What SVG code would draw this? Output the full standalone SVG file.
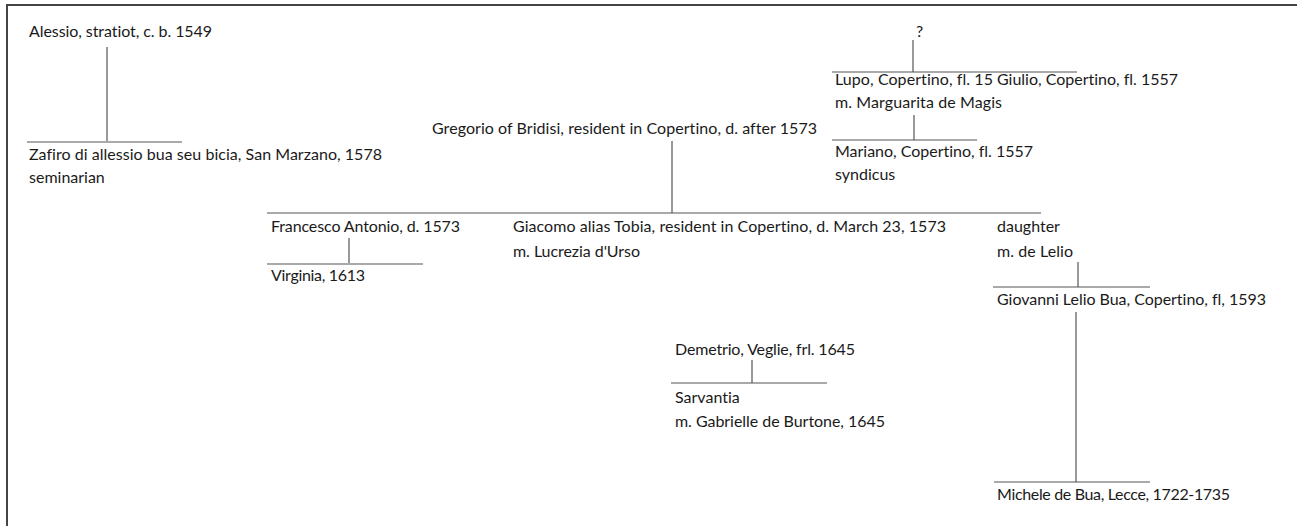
<svg xmlns="http://www.w3.org/2000/svg" width="1297" height="526" viewBox="0 0 1297 526">
<style>
text{font-family:Lato,"Open Sans","Liberation Sans",sans-serif;font-size:16px;fill:#1a1a1a;font-variant-ligatures:none;font-feature-settings:"liga" 0}
.c line{stroke:#555;stroke-width:1.2}
.b{stroke:#444;stroke-width:2;fill:none}
</style>
<rect width="1297" height="526" fill="#fff"/>
<path class="b" d="M7,526 V5 H1297"/>
<g id="connectors" class="c">
<line x1="107" y1="47" x2="107" y2="141"/>
<line x1="27" y1="142" x2="182" y2="142"/>
<line x1="913" y1="40" x2="913" y2="72"/>
<line x1="832" y1="72" x2="1077" y2="72"/>
<line x1="914" y1="115" x2="914" y2="140"/>
<line x1="832" y1="140" x2="977" y2="140"/>
<line x1="672" y1="141" x2="672" y2="213"/>
<line x1="267" y1="213" x2="1041" y2="213"/>
<line x1="349" y1="238" x2="349" y2="263"/>
<line x1="267" y1="264" x2="423" y2="264"/>
<line x1="1078" y1="262" x2="1078" y2="287"/>
<line x1="993" y1="287" x2="1150" y2="287"/>
<line x1="1076" y1="312" x2="1076" y2="482"/>
<line x1="994" y1="482" x2="1150" y2="482"/>
<line x1="752" y1="360" x2="752" y2="383"/>
<line x1="671" y1="383" x2="827" y2="383"/>
</g>
<g id="alessio"><text x="29" y="37" textLength="183">Alessio, stratiot, c. b. 1549</text></g>
<g id="zafiro"><text x="29" y="160" textLength="353">Zafiro di allessio bua seu bicia, San Marzano, 1578</text><text x="29" y="183">seminarian</text></g>
<g id="unknown"><text x="916" y="37">?</text></g>
<g id="lupo"><text x="835" y="85" textLength="158">Lupo, Copertino, fl. 15</text><text x="835" y="108" textLength="167">m. Marguarita de Magis</text></g>
<g id="giulio"><text x="997" y="85" textLength="181">Giulio, Copertino, fl. 1557</text></g>
<g id="mariano"><text x="835" y="157" textLength="198">Mariano, Copertino, fl. 1557</text><text x="835" y="180">syndicus</text></g>
<g id="gregorio"><text x="432" y="134" textLength="385">Gregorio of Bridisi, resident in Copertino, d. after 1573</text></g>
<g id="francesco"><text x="271" y="232" textLength="189">Francesco Antonio, d. 1573</text></g>
<g id="virginia"><text x="271" y="281" textLength="94">Virginia, 1613</text></g>
<g id="giacomo"><text x="513" y="232" textLength="433">Giacomo alias Tobia, resident in Copertino, d. March 23, 1573</text><text x="513" y="257" textLength="127">m. Lucrezia d'Urso</text></g>
<g id="daughter"><text x="997" y="232">daughter</text><text x="997" y="257" textLength="76">m. de Lelio</text></g>
<g id="giovanni"><text x="997" y="305" textLength="269">Giovanni Lelio Bua, Copertino, fl, 1593</text></g>
<g id="michele"><text x="997" y="500" textLength="233">Michele de Bua, Lecce, 1722-1735</text></g>
<g id="demetrio"><text x="675" y="355" textLength="180">Demetrio, Veglie, frl. 1645</text></g>
<g id="sarvantia"><text x="675" y="403">Sarvantia</text><text x="675" y="427" textLength="210">m. Gabrielle de Burtone, 1645</text></g>
</svg>
